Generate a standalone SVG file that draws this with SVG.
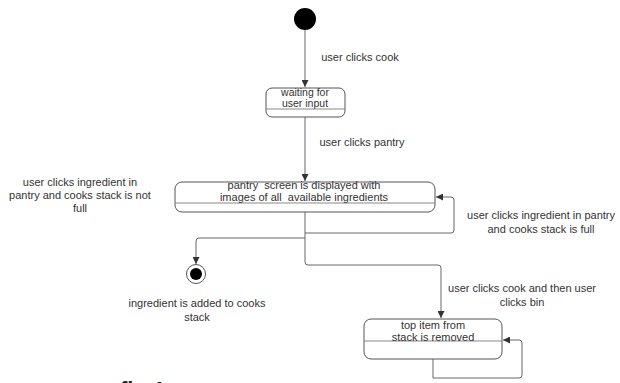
<svg xmlns="http://www.w3.org/2000/svg" width="620" height="383" viewBox="0 0 620 383">
<style>
text{font-family:"Liberation Sans",Arial,sans-serif;font-size:11px;fill:#333;text-anchor:middle;white-space:pre}
.box{fill:#fff;stroke:#555;stroke-width:1}
.div{stroke:#888;stroke-width:1}
.edge{fill:none;stroke:#666;stroke-width:1}
.small{font-size:10.5px}
</style>
<defs>
<marker id="ah" viewBox="0 0 10 10" refX="10" refY="5" markerWidth="7" markerHeight="7" orient="auto" markerUnits="userSpaceOnUse">
<path d="M0,0 L10,5 L0,10 z" fill="#333"/>
</marker>
</defs>
<rect width="620" height="383" fill="#fff"/>
<g id="connectors">
<path class="edge" d="M305,30 V87" marker-end="url(#ah)"/>
<path class="edge" d="M305,117 V181" marker-end="url(#ah)"/>
<path class="edge" d="M305,212 V233 H451 Q454,233 454,230 V200 Q454,197 451,197 H436" marker-end="url(#ah)"/>
<path class="edge" d="M305,233 V238 H199 Q196,238 196,241 V264" marker-end="url(#ah)"/>
<path class="edge" d="M305,238 V262 Q305,265 308,265 H438 Q441,265 441,268 V318" marker-end="url(#ah)"/>
<path class="edge" d="M433,359 V378 H519 Q522,378 522,375 V343 Q522,340 519,340 H503" marker-end="url(#ah)"/>
</g>
<g id="start">
<circle cx="305" cy="19" r="11" fill="#000"/>
</g>
<g id="waiting">
<rect class="box" x="266" y="88" width="79" height="29" rx="6"/>
<line class="div" x1="266" y1="109" x2="345" y2="109"/>
<text class="small" x="305" y="96">waiting for</text>
<text class="small" x="305" y="107">user input</text>
</g>
<g id="pantry">
<rect class="box" x="175" y="182" width="260" height="30" rx="7"/>
<line class="div" x1="175" y1="203" x2="435" y2="203"/>
<text x="304" y="189" xml:space="preserve">pantry  screen is displayed with</text>
<text x="304" y="201" xml:space="preserve">images of all  available ingredients</text>
</g>
<g id="final">
<circle cx="196" cy="274" r="9.5" fill="#fff" stroke="#555" stroke-width="1"/>
<circle cx="196" cy="274" r="6" fill="#000"/>
</g>
<g id="removed">
<rect class="box" x="364" y="319" width="138" height="40" rx="7"/>
<line class="div" x1="364" y1="341" x2="502" y2="341"/>
<text x="433" y="329">top item from</text>
<text x="433" y="341">stack is removed</text>
</g>
<g id="labels">
<text x="360" y="61">user clicks cook</text>
<text x="362" y="146">user clicks pantry</text>
<text x="80" y="186">user clicks ingredient in</text>
<text x="80" y="199">pantry and cooks stack is not</text>
<text x="80" y="212">full</text>
<text x="541" y="219">user clicks ingredient in pantry</text>
<text x="541" y="233">and cooks stack is full</text>
<text x="197" y="307">ingredient is added to cooks</text>
<text x="197" y="321">stack</text>
<text x="522" y="292">user clicks cook and then user</text>
<text x="522" y="306">clicks bin</text>
<text x="120" y="397" style="font-size:22px;font-weight:bold;fill:#222;text-anchor:start">fig 1</text>
</g>
</svg>
